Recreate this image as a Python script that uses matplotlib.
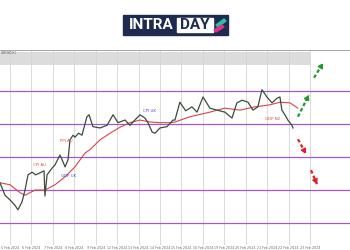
import matplotlib
matplotlib.use("Agg")
import matplotlib.pyplot as plt
from matplotlib.patches import Rectangle, Polygon

# precio (dias desde el primer grid, cierre aproximado)
price_t = [-0.47, -0.23, 0.00, 0.23, 0.37, 0.56, 0.70, 0.84, 1.03, 1.20, 1.40, 1.59, 1.63, 1.73,
           1.96, 2.10, 2.33, 2.43, 2.57, 2.71, 2.80, 2.94, 3.03, 3.20, 3.36, 3.59, 3.69, 3.87,
           4.20, 4.53, 4.81, 5.04, 5.37, 5.60, 5.74, 6.07, 6.30, 6.44, 6.63, 6.77, 7.00, 7.33,
           7.61, 7.70, 7.93, 8.20, 8.49, 8.73, 9.01, 9.33, 9.66, 10.03, 10.36, 10.59, 10.83,
           11.11, 11.34, 11.57, 11.76, 11.99, 12.23, 12.46, 12.60, 12.69, 12.83, 12.97, 13.16, 13.21]
price_c = [1.2561, 1.2542, 1.2535, 1.2527, 1.2520, 1.2532, 1.2550, 1.2573, 1.2577, 1.2573, 1.2576,
           1.2579, 1.2541, 1.2573, 1.2583, 1.2588, 1.2603, 1.2596, 1.2585, 1.2596, 1.2626, 1.2633,
           1.2630, 1.2636, 1.2633, 1.2661, 1.2664, 1.2646, 1.2644, 1.2648, 1.2664, 1.2652, 1.2656,
           1.2648, 1.2653, 1.2664, 1.2659, 1.2652, 1.2638, 1.2636, 1.2644, 1.2646, 1.2656, 1.2656,
           1.2683, 1.2670, 1.2676, 1.2668, 1.2691, 1.2674, 1.2671, 1.2668, 1.2659, 1.2682, 1.2686,
           1.2683, 1.2671, 1.2676, 1.2702, 1.2691, 1.2682, 1.2689, 1.2691, 1.2671, 1.2664, 1.2656,
           1.2648, 1.2644]

# media movil
ma_t = [-0.47, 0.00, 0.47, 0.70, 1.17, 1.63, 2.10, 2.57, 3.03, 3.50, 3.73, 4.20, 4.67, 5.13,
        5.60, 6.07, 6.53, 7.00, 7.47, 7.70, 8.40, 9.33, 10.03, 10.73, 11.43, 12.13, 12.60, 13.07, 13.44]
ma_v = [1.2561, 1.2558, 1.2546, 1.2542, 1.2550, 1.2550, 1.2558, 1.2570, 1.2585, 1.2606, 1.2611,
        1.2626, 1.2636, 1.2645, 1.2652, 1.2656, 1.2653, 1.2652, 1.2652, 1.2653, 1.2661, 1.2668,
        1.2674, 1.2671, 1.2676, 1.2679, 1.2683, 1.2682, 1.2674]

levels = [1.2700, 1.2650, 1.2600, 1.2550, 1.2500]
band = (1.27394, 1.27591)

dates = ["5 Feb 2024", "6 Feb 2024", "7 Feb 2024", "8 Feb 2024", "9 Feb 2024", "12 Feb 2024",
         "13 Feb 2024", "14 Feb 2024", "15 Feb 2024", "16 Feb 2024", "19 Feb 2024", "20 Feb 2024",
         "21 Feb 2024", "22 Feb 2024", "23 Feb 2024"]

events = [("CPI AU", 1.40, 1.2588, "#d0503a"), ("PPI AU", 2.61, 1.2624, "#d0503a"),
          ("GDP UK", 2.71, 1.2571, "#4a4ac8"), ("CPI UK", 6.53, 1.2670, "#4a4ac8"),
          ("GDP NZ", 12.27, 1.2658, "#d0503a")]

# flechas de escenario: (x0, y0, x1, y1, color)
arrows = [(13.44, 1.2661, 13.95, 1.2694, "#1f9a2e"), (14.19, 1.2720, 14.61, 1.2742, "#1f9a2e"),
          (13.44, 1.2627, 13.81, 1.2605, "#e0202a"), (14.05, 1.2580, 14.33, 1.2559, "#e0202a")]

fig = plt.figure(figsize=(3.5, 2.5), dpi=100)
fig.patch.set_facecolor("white")
ax = fig.add_axes([0, 0.02, 1, 0.78])
ax.set_xlim(-0.467, 15.87)
ax.set_ylim(1.24667, 1.27621)

ax.fill_between([-0.467, 14], band[0], band[1], color="#dcdcdc", lw=0, zorder=0.5)
ax.vlines(range(15), 1.24667, 1.27621, color="#d4d4d4", lw=0.6, zorder=1)
for lv in levels:
    ax.axhline(lv, color="#a35ac8", lw=0.9, zorder=2)

ax.plot(ma_t, ma_v, color="#d04848", lw=0.8, zorder=3)
ax.plot(price_t, price_c, color="#3c4c3c", lw=0.9, zorder=4)

for txt, x, y, c in events:
    ax.text(x, y, txt, fontsize=2.8, color=c, ha="center", va="center", zorder=5)

for x0, y0, x1, y1, c in arrows:
    ax.plot([x0, x1], [y0, y1], color=c, lw=1.6, linestyle=(0, (1.6, 1.1)), zorder=6)
    xm = x0 + 0.75 * (x1 - x0)
    ym = y0 + 0.75 * (y1 - y0)
    ax.annotate("", xy=(x1, y1), xytext=(xm, ym),
                arrowprops=dict(arrowstyle="-|>,head_width=0.15,head_length=0.25",
                                lw=1.2, color=c, shrinkA=0, shrinkB=0),
                zorder=6)

ax.set_xticks(range(15))
ax.set_xticklabels(dates)
ax.tick_params(axis="x", length=0, pad=1, labelsize=2.3, colors="#666666")
ax.set_yticks([])
for s in ["left", "right", "bottom"]:
    ax.spines[s].set_visible(False)
ax.spines["top"].set_color("#999999")
ax.spines["top"].set_linewidth(0.6)
ax.text(0.003, 0.997, "GBPUSD,H1", transform=ax.transAxes, fontsize=2, color="#555555",
        ha="left", va="top")

# logo
W, H = 350.0, 250.0
fig.patches.append(Rectangle((123 / W, 1 - 35 / H), 105 / W, 20 / H, transform=fig.transFigure,
                             color="#1c2b4e", zorder=1))
fig.patches.append(Rectangle((177 / W, 1 - 32 / H), 36 / W, 14 / H, transform=fig.transFigure,
                             color="white", zorder=2))
fig.text(151 / W, 1 - 25 / H, "INTRA", fontsize=11, fontweight="bold", family="Roboto",
         color="white", ha="center", va="center", zorder=3)
fig.text(195 / W, 1 - 25 / H, "DAY", fontsize=11, fontweight="bold", family="Roboto",
         color="#1c2b4e", ha="center", va="center", zorder=3)
fig.patches.append(Polygon([(216 / W, 1 - 25 / H), (224 / W, 1 - 19 / H), (226 / W, 1 - 21 / H),
                            (218 / W, 1 - 27 / H)], closed=True, transform=fig.transFigure,
                           color="#2bc0a0", zorder=3))
fig.patches.append(Polygon([(214 / W, 1 - 30 / H), (222 / W, 1 - 25 / H), (224 / W, 1 - 27 / H),
                            (216 / W, 1 - 32 / H)], closed=True, transform=fig.transFigure,
                           color="#e0308a", zorder=3))

fig.savefig("out.png", dpi=100)
